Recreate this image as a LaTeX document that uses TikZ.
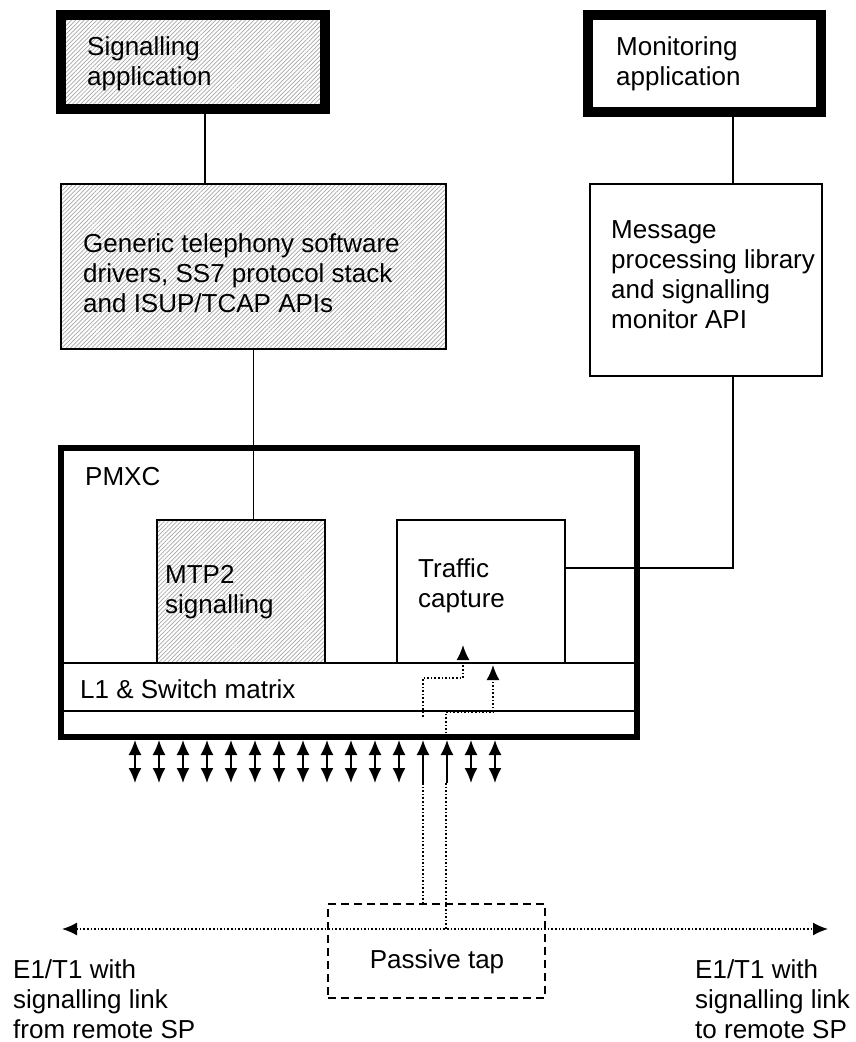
\documentclass[tikz,border=0pt]{standalone}
\usepackage{fontspec}
\setmainfont{Liberation Sans}
\usetikzlibrary{positioning,calc,patterns.meta,arrows.meta}

\tikzset{
	box/.style={draw, line width=1.6pt, inner sep=0pt, outer sep=0pt},
	hatched/.style={pattern={Lines[angle=45,distance=3pt,line width=0.7pt]}, pattern color=gray!70},
	appbox/.style={box, line width=10pt},
	% anchored on the baseline of the last line
	txt/.style={font=\fontsize{26}{30}\selectfont, align=left, inner sep=0pt, anchor=base west},
	link/.style={line width=1.6pt},
	tapline/.style={line width=1.6pt, dotted},
	oneway/.style={-{Latex[length=15pt,width=13pt]}},
	twoway/.style={{Latex[length=15pt,width=13pt]}-{Latex[length=15pt,width=13pt]}}
}

\begin{document}
\begin{tikzpicture}[x=1pt, y=-1pt]
\useasboundingbox (0,0) rectangle (855,1042);

\def\arrX{135}%first port
\def\arrGap{24}

% applications
\node[appbox, hatched, minimum width=264, minimum height=94] (sigapp) at (193,62) {};
\node[appbox, minimum width=233, minimum height=97] (monapp) at (704.5,63.5) {};
\node[txt] (sigTxt) at (87,85) {Signalling\\application};
\node[txt] (monTxt) at (616,85) {Monitoring\\application};

% software layers
\node[box, hatched, minimum width=385, minimum height=165] (gen) at (253.5,266.5) {};
\node[box, minimum width=232, minimum height=192] (msg) at (706,280) {};
\node[txt] (genTxt) at (83,312) {Generic telephony software\\drivers, SS7 protocol stack\\and ISUP/TCAP APIs};
\node[txt] (msgTxt) at (611,328) {Message\\processing library\\and signalling\\monitor API};

% board
\node[box, line width=6pt, minimum width=576, minimum height=289] (pmxc) at (349,592.5) {};
\node[box, minimum width=576, minimum height=48] (lone) at (349,687) {};
\node[box, hatched, minimum width=168, minimum height=143] (mtp) at (241,591.5) {};
\node[box, fill=white, minimum width=168, minimum height=143] (traf) at (481,591.5) {};
\node[txt] (pmxcTxt) at (85,485) {PMXC};
\node[txt] (loneTxt) at (80,698) {L1 \& Switch matrix};
\node[txt] (mtpTxt) at (165,613) {MTP2\\signalling};
\node[txt] (trafTxt) at (418,607) {Traffic\\capture};

% tap
\node[box, dash pattern=on 8pt off 5pt, minimum width=217, minimum height=94] (tap) at (436.5,951) {};
\node[txt, anchor=base] (tapTxt) at (437,968) {Passive tap};
\node[txt] (fromTxt) at (13,1038) {E1/T1 with\\signalling link\\from remote SP};
\node[txt] (toTxt) at (695,1038) {E1/T1 with\\signalling link\\to remote SP};

% links
\coordinate (sigport) at (205,0);
\coordinate (monport) at (733,0);
\coordinate (trafport) at (565,568);
\draw[link] (sigapp.south -| sigport) -- (gen.north -| sigport);
\draw[link] (monapp.south -| monport) -- (msg.north -| monport);
\draw[link] (gen.south) -- (gen.south |- mtp.north);
\draw[link] (trafport) -| (msg.south -| monport);

% ports
\foreach \i in {0,...,11,14,15}
	\draw[link, twoway] ({\arrX+\arrGap*\i},783) -- ({\arrX+\arrGap*\i},740);
\foreach \i in {12,13}
	\draw[link, oneway] ({\arrX+\arrGap*\i},783) -- ({\arrX+\arrGap*\i},740);

% tapped lines
\coordinate (rxA) at (423,765);
\coordinate (rxB) at (446,783);
\coordinate (lineL) at (62,929);
\coordinate (lineR) at (828,929);
\draw[tapline] (rxA) -- (rxA |- tap.north);
\draw[tapline] (rxB) -- (rxB |- lineL);
\draw[tapline, twoway] (lineL) -- (lineR);
\draw[tapline, oneway] (423,717) -- (423,678) -- (463,678) -- (463,645);
\draw[tapline, oneway] (446,737) -- (446,712) -- (493,712) -- (493,665);

\end{tikzpicture}
\end{document}
